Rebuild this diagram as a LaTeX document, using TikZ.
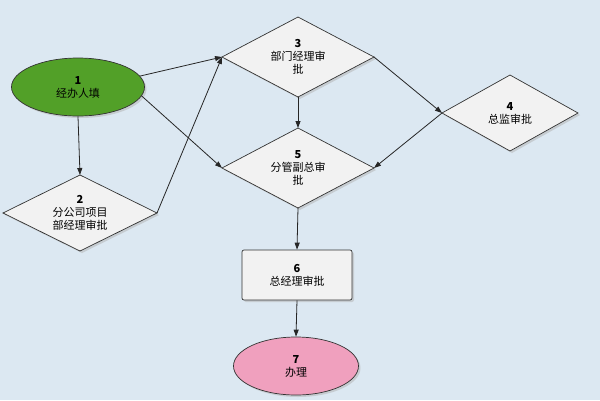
\documentclass[tikz,border=0pt]{standalone}
\usepackage{fontspec}
\setmainfont{Noto Sans CJK SC}
\usetikzlibrary{shapes.geometric,arrows.meta,shadows}
\begin{document}
\begin{tikzpicture}[x=1pt,y=-1pt,
  shp/.style={draw=black!80,line width=0.7pt,drop shadow={shadow xshift=2pt,shadow yshift=-2pt,fill=black!30}},
  lbl/.style={align=center,font=\fontsize{11}{13}\selectfont},
  arr/.style={-{Triangle[length=7pt,width=5pt]},line width=0.8pt,black!85}]
\fill[fill={rgb,255:red,220;green,232;blue,242}] (0,0) rectangle (600,400);
\useasboundingbox (0,0) rectangle (600,400);
% node 1
\node[shp,ellipse,fill={rgb,255:red,82;green,160;blue,40},minimum width=133pt,minimum height=58pt,inner sep=0pt] (n1) at (78,87) {};
\node[lbl] at (n1) {\textbf{1}\\经办人填};
% diamonds
\newcommand\dmd[5]{% name, cx, cy, halfw, halfh
  \coordinate (#1t) at (#2,#3-#5);
  \coordinate (#1b) at (#2,#3+#5);
  \coordinate (#1l) at (#2-#4,#3);
  \coordinate (#1r) at (#2+#4,#3);
  \path[shp,fill={rgb,255:red,242;green,242;blue,242}] (#1t)--(#1r)--(#1b)--(#1l)--cycle;
  \coordinate (#1) at (#2,#3);}
\dmd{n2}{80}{213}{77}{38}
\node[lbl] (t2) at (n2) {\textbf{2}\\分公司项目\\部经理审批};
\dmd{n3}{298}{57}{76}{40}
\node[lbl] (t3) at (n3) {\textbf{3}\\部门经理审\\批};
\dmd{n4}{510}{113}{68}{38}
\node[lbl] (t4) at (n4) {\textbf{4}\\总监审批};
\dmd{n5}{298}{168}{76}{40}
\node[lbl] (t5) at (n5) {\textbf{5}\\分管副总审\\批};
% node 6
\node[shp,rectangle,rounded corners=2pt,fill={rgb,255:red,242;green,242;blue,242},minimum width=110pt,minimum height=50pt,lbl] (n6) at (297,275) {\textbf{6}\\总经理审批};
% node 7
\node[shp,ellipse,fill={rgb,255:red,240;green,160;blue,190},minimum width=125pt,minimum height=58pt,inner sep=0pt,lbl] (n7) at (296,366) {\textbf{7}\\办理};
% edges
\draw[arr] (n1.10) -- (n3l);
\draw[arr] (n1.-8) -- (n5l);
\draw[arr] (n1.south) -- (n2t);
\draw[arr] (n2r) -- (n3l);
\draw[arr] (n3b) -- (n5t);
\draw[arr] (n3r) -- (n4l);
\draw[arr] (n4l) -- (n5r);
\draw[arr] (n5b) -- (n6.north);
\draw[arr] (n6.south) -- (n7.north);
\end{tikzpicture}
\end{document}
